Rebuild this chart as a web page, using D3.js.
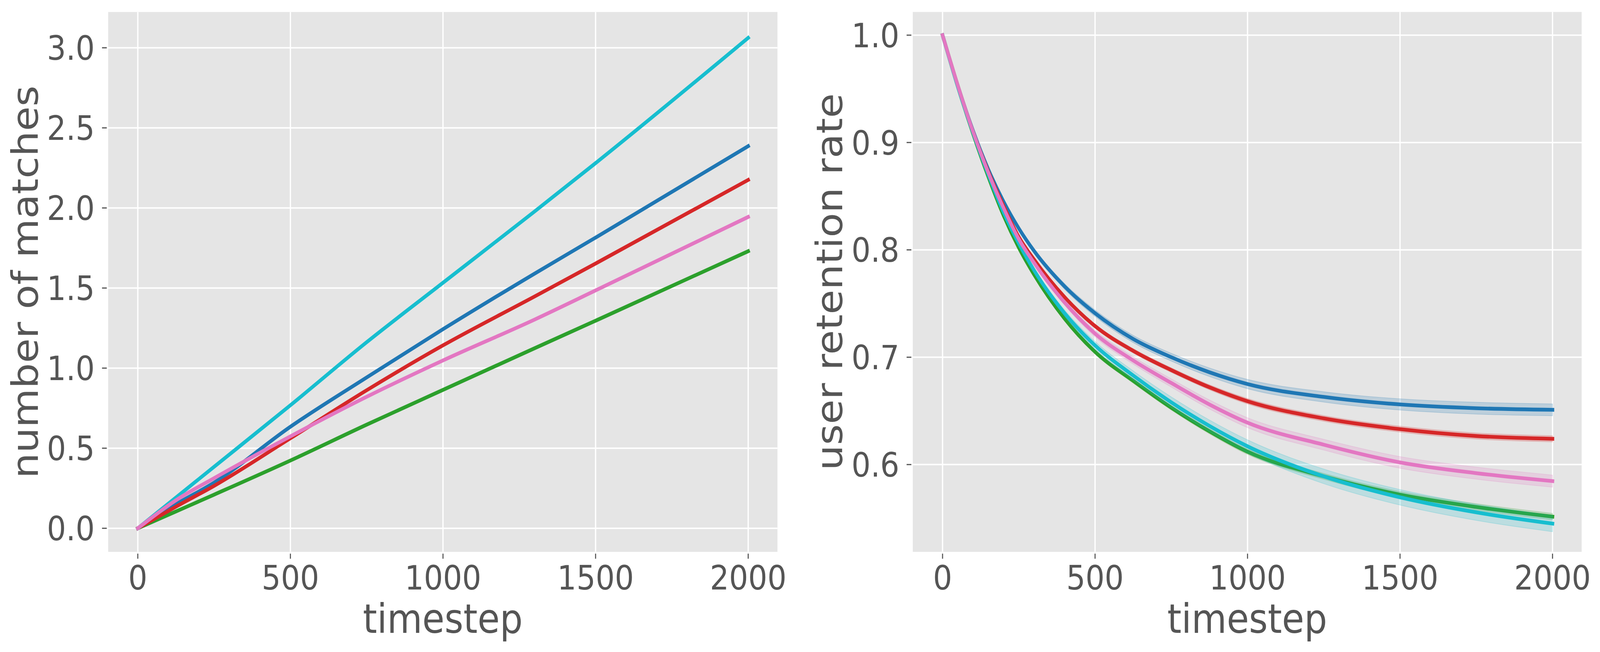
<!DOCTYPE html>
<html>
<head>
<meta charset="utf-8">
<script src="https://cdn.jsdelivr.net/npm/d3@7"></script>
<style>
  html, body { margin: 0; padding: 0; background: #ffffff; overflow: hidden; }
  svg { display: block; }
  text { font-family: "DejaVu Sans", sans-serif; fill: #555555; }
</style>
</head>
<body>
<svg id="chart" viewBox="0 0 4540 1669" preserveAspectRatio="none"></svg>
<script>
// ---------------- DATA ----------------
const seriesNames = ["blue", "green", "red", "cyan", "pink"];
const seriesColors = { blue: "#1f77b4", green: "#2ca02c", red: "#d62728", cyan: "#17becf", pink: "#e377c2" };

// Left panel: number of matches
const matchTimesteps = [0, 125, 250, 500, 750, 1000, 1300, 1500, 2000];
const matchesBlue  = [0, 0.150, 0.285, 0.634, 0.942, 1.243, 1.590, 1.815, 2.386];
const matchesGreen = [0, 0.105, 0.210, 0.423, 0.647, 0.864, 1.124, 1.296, 1.730];
const matchesRed   = [0, 0.135, 0.265, 0.562, 0.862, 1.142, 1.447, 1.653, 2.175];
const matchesCyan  = [0, 0.192, 0.384, 0.768, 1.162, 1.533, 1.978, 2.280, 3.062];
const matchesPink  = [0, 0.175, 0.313, 0.574, 0.821, 1.048, 1.303, 1.485, 1.944];

// Right panel: user retention rate (mean and half band width)
const retTimesteps = [0, 50, 100, 150, 200, 250, 300, 400, 500, 625, 750, 875, 1000, 1250, 1500, 1750, 2000];
const retBlue  = [1.0, 0.953, 0.911, 0.875, 0.845, 0.820, 0.799, 0.766, 0.741, 0.717, 0.700, 0.686, 0.675, 0.663, 0.656, 0.6525, 0.651];
const retGreen = [1.0, 0.952, 0.908, 0.868, 0.832, 0.802, 0.777, 0.736, 0.705, 0.678, 0.653, 0.631, 0.612, 0.589, 0.572, 0.5605, 0.5515];
const retRed   = [1.0, 0.953, 0.910, 0.873, 0.841, 0.812, 0.791, 0.756, 0.729, 0.706, 0.688, 0.672, 0.659, 0.643, 0.633, 0.6266, 0.624];
const retCyan  = [1.0, 0.952, 0.909, 0.870, 0.835, 0.806, 0.781, 0.741, 0.711, 0.683, 0.658, 0.636, 0.617, 0.589, 0.5695, 0.5555, 0.545];
const retPink  = [1.0, 0.953, 0.910, 0.872, 0.839, 0.810, 0.788, 0.751, 0.722, 0.697, 0.676, 0.656, 0.639, 0.6185, 0.602, 0.592, 0.5846];

const bandBlue  = [0, 0.0008, 0.001, 0.0013, 0.0016, 0.002, 0.0022, 0.0026, 0.003, 0.0033, 0.0036, 0.004, 0.0043, 0.0048, 0.0052, 0.0055, 0.0055];
const bandGreen = [0, 0.0006, 0.0008, 0.001, 0.0012, 0.0014, 0.0015, 0.0017, 0.0019, 0.002, 0.0021, 0.0023, 0.0025, 0.0027, 0.0029, 0.003, 0.003];
const bandRed   = [0, 0.0005, 0.0008, 0.001, 0.0012, 0.0014, 0.0015, 0.0017, 0.0019, 0.002, 0.0021, 0.0023, 0.0025, 0.0026, 0.0027, 0.0028, 0.0028];
const bandCyan  = [0, 0.0008, 0.001, 0.0013, 0.0016, 0.002, 0.0023, 0.003, 0.0036, 0.0043, 0.005, 0.0055, 0.006, 0.0068, 0.0072, 0.0075, 0.0075];
const bandPink  = [0, 0.0008, 0.001, 0.0012, 0.0014, 0.0017, 0.002, 0.0025, 0.003, 0.0034, 0.0038, 0.0042, 0.0046, 0.005, 0.0054, 0.0056, 0.0056];

const xTicks = [0, 500, 1000, 1500, 2000];
const leftYTicks = [0.0, 0.5, 1.0, 1.5, 2.0, 2.5, 3.0];
const rightYTicks = [0.6, 0.7, 0.8, 0.9, 1.0];
const xLabel = "timestep";
const leftYLabel = "number of matches";
const rightYLabel = "user retention rate";

const matchesBySeries = { blue: matchesBlue, green: matchesGreen, red: matchesRed, cyan: matchesCyan, pink: matchesPink };
const retBySeries = { blue: retBlue, green: retGreen, red: retRed, cyan: retCyan, pink: retPink };
const bandBySeries = { blue: bandBlue, green: bandGreen, red: bandRed, cyan: bandCyan, pink: bandPink };

// ---------------- LAYOUT ----------------
// The drawing is laid out in a 4540x1669 coordinate space and fitted to the actual viewport.
const svg = d3.select("#chart")
  .attr("width", window.innerWidth || 4540)
  .attr("height", window.innerHeight || 1669);
const TICK_FONT = 85.5, LABEL_FONT = 102.6, LINE_W = 9.6;

function panel(cfg) {
  const g = svg.append("g");
  const x = d3.scaleLinear().domain(cfg.xDomain).range(cfg.xRange);
  const y = d3.scaleLinear().domain(cfg.yDomain).range(cfg.yRange);
  const L = cfg.box.left, R = cfg.box.right, T = cfg.box.top, B = cfg.box.bottom;

  g.append("rect").attr("x", L).attr("y", T).attr("width", R - L).attr("height", B - T).attr("fill", "#e5e5e5");

  g.append("g").selectAll("line").data(xTicks).join("line")
    .attr("x1", d => x(d)).attr("x2", d => x(d)).attr("y1", T).attr("y2", B)
    .attr("stroke", "#ffffff").attr("stroke-width", 3.7);
  g.append("g").selectAll("line").data(cfg.yTicks).join("line")
    .attr("y1", d => y(d)).attr("y2", d => y(d)).attr("x1", L).attr("x2", R)
    .attr("stroke", "#ffffff").attr("stroke-width", 3.7);

  const xa = g.append("g");
  xa.selectAll("line").data(xTicks).join("line")
    .attr("x1", d => x(d)).attr("x2", d => x(d)).attr("y1", B + 4.5).attr("y2", B + 17.5)
    .attr("stroke", "#555555").attr("stroke-width", 3);
  xa.selectAll("text").data(xTicks).join("text")
    .attr("x", d => x(d)).attr("y", 1509).attr("text-anchor", "middle")
    .attr("font-size", TICK_FONT).text(d => d3.format("d")(d));

  const ya = g.append("g");
  ya.selectAll("line").data(cfg.yTicks).join("line")
    .attr("y1", d => y(d)).attr("y2", d => y(d)).attr("x1", L - 17.5).attr("x2", L - 4)
    .attr("stroke", "#555555").attr("stroke-width", 3);
  ya.selectAll("text").data(cfg.yTicks).join("text")
    .attr("x", L - 38).attr("y", d => y(d)).attr("dy", "0.36em").attr("text-anchor", "end")
    .attr("font-size", TICK_FONT).text(d => d3.format(".1f")(d));

  g.append("text").attr("x", (L + R) / 2).attr("y", 1620).attr("text-anchor", "middle")
    .attr("font-size", LABEL_FONT).text(xLabel);
  g.append("text").attr("transform", `translate(${cfg.yLabelX},${(T + B) / 2}) rotate(-90)`)
    .attr("text-anchor", "middle").attr("font-size", LABEL_FONT).text(cfg.yLabel);

  return { g, x, y };
}

// ---------- Left panel ----------
const left = panel({
  box: { left: 307, right: 2206, top: 30.7, bottom: 1412.7 },
  xDomain: [0, 2000], xRange: [391, 2123],
  yDomain: [0, 3], yRange: [1352.3, 122.3],
  yTicks: leftYTicks, yLabel: leftYLabel, yLabelX: 107
});
seriesNames.forEach(name => {
  const vals = matchesBySeries[name];
  const line = d3.line().x((d, i) => left.x(matchTimesteps[i])).y(d => left.y(d)).curve(d3.curveMonotoneX);
  left.g.append("path").datum(vals).attr("d", line)
    .attr("fill", "none").attr("stroke", seriesColors[name]).attr("stroke-width", LINE_W)
    .attr("stroke-linecap", "square").attr("stroke-linejoin", "round");
});

// ---------- Right panel ----------
const right = panel({
  box: { left: 2590, right: 4488, top: 30.6, bottom: 1412.7 },
  xDomain: [0, 2000], xRange: [2674.5, 4405.3],
  yDomain: [0.9, 1.0], yRange: [364.8, 90],
  yTicks: rightYTicks, yLabel: rightYLabel, yLabelX: 2390
});
seriesNames.forEach(name => {
  const vals = retBySeries[name], band = bandBySeries[name];
  const pts = vals.map((v, i) => ({ t: retTimesteps[i], v, lo: v - band[i], hi: v + band[i] }));
  const area = d3.area().x(d => right.x(d.t)).y0(d => right.y(d.lo)).y1(d => right.y(d.hi)).curve(d3.curveMonotoneX);
  right.g.append("path").datum(pts).attr("d", area)
    .attr("fill", seriesColors[name]).attr("fill-opacity", 0.2)
    .attr("stroke", seriesColors[name]).attr("stroke-opacity", 0.2).attr("stroke-width", 2);
  const line = d3.line().x(d => right.x(d.t)).y(d => right.y(d.v)).curve(d3.curveMonotoneX);
  right.g.append("path").datum(pts).attr("d", line)
    .attr("fill", "none").attr("stroke", seriesColors[name]).attr("stroke-width", LINE_W)
    .attr("stroke-linecap", "square").attr("stroke-linejoin", "round");
});
</script>
</body>
</html>
